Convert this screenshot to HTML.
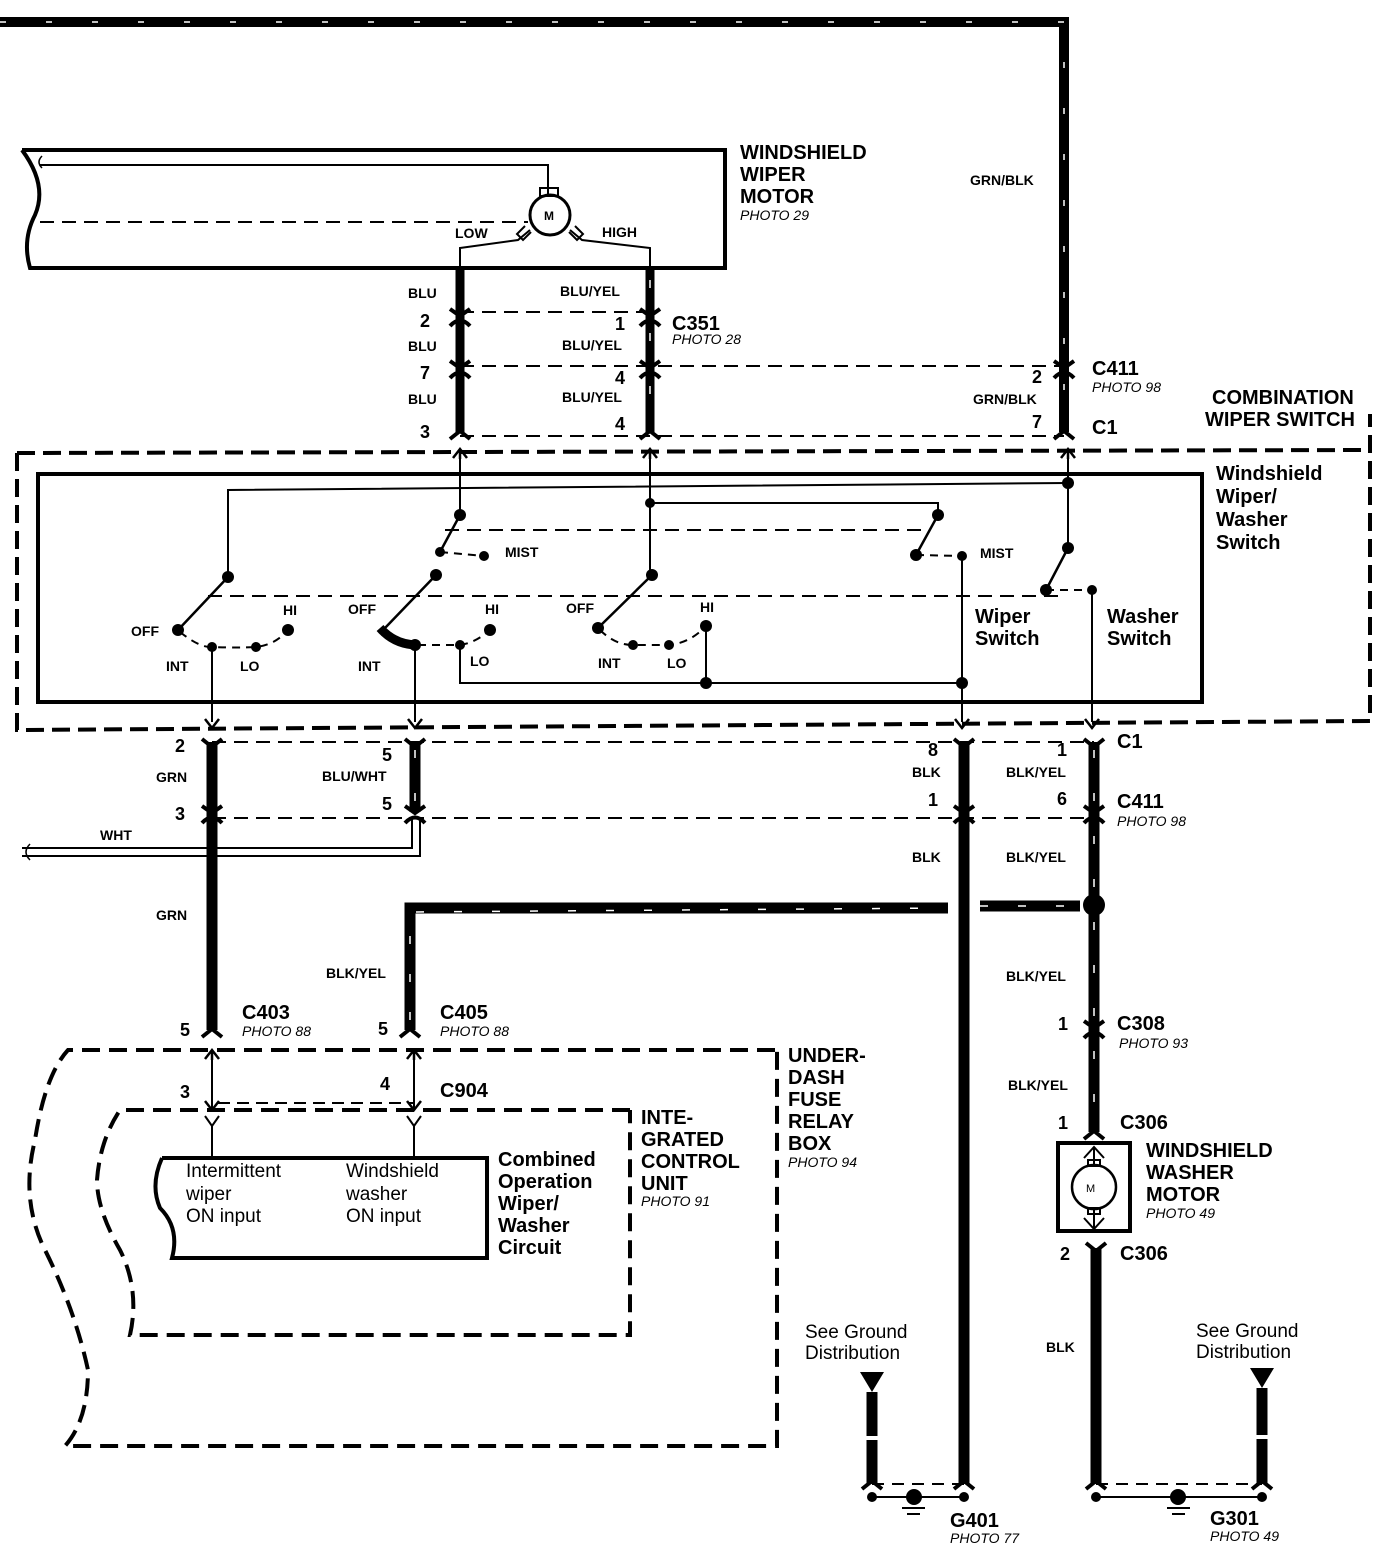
<!DOCTYPE html>
<html><head><meta charset="utf-8"><style>
html,body{margin:0;padding:0;background:#fff}
svg{display:block}
text{font-family:"Liberation Sans",Arial,sans-serif;fill:#000}
.b{font-weight:bold}
.i{font-style:italic}
</style></head><body>
<svg width="1392" height="1550" viewBox="0 0 1392 1550" xmlns="http://www.w3.org/2000/svg">
<defs>
<g id="cp"><path d="M-10,-9 L0,-2 L10,-9" fill="none" stroke="#000" stroke-width="4"/><path d="M-10,8 Q0,-3 10,8" fill="none" stroke="#000" stroke-width="4"/></g>
<g id="fk"><path d="M-10,-9 L0,-1 L10,-9" fill="none" stroke="#000" stroke-width="4"/></g>
<g id="fu"><path d="M-10,9 L0,1 L10,9" fill="none" stroke="#000" stroke-width="4"/></g>
<g id="au"><path d="M-7,9 L0,0 L7,9 M0,0 L0,10" fill="none" stroke="#000" stroke-width="2.5"/></g>
<g id="ad"><path d="M-7,-9 L0,0 L7,-9" fill="none" stroke="#000" stroke-width="2.5"/></g>
</defs>
<g fill="none" stroke="#000">
<path d="M0,22 L1064,22 L1064,432" stroke-width="10"/>
<path d="M0,22 L1064,22 L1064,432" stroke="#fff" stroke-width="1.5" stroke-dasharray="6 40"/>
<path d="M22,150 L725,150 L725,268 L30,268 Q22,240 35,215 Q48,185 22,150" stroke-width="4"/>
<path d="M40,165 L548,165 L548,195" stroke-width="2"/>
<path d="M42,168 q-6,-6 0,-12" stroke-width="1.5"/>
<path d="M40,222 L528,222" stroke-width="2" stroke-dasharray="14 8"/>
<circle cx="550" cy="215" r="20" stroke-width="3"/>
<rect x="540" y="188" width="18" height="8" stroke-width="2"/>
<path d="M530,230 L518,240 L460,248 L460,268 M570,230 L582,240 L650,248 L650,268" stroke-width="2"/>
<path d="M525,226 l-8,8 l6,6 l8,-8 M575,226 l8,8 l-6,6 l-8,-8" stroke-width="2"/>
<path d="M460,268 L460,432 M650,268 L650,432" stroke-width="9"/>
<path d="M650,280 L650,432" stroke="#fff" stroke-width="1.5" stroke-dasharray="8 45"/>
<path d="M460,312 L650,312" stroke-width="2" stroke-dasharray="14 8"/>
<path d="M460,366 L1064,366" stroke-width="2" stroke-dasharray="14 8"/>
<path d="M460,436 L1064,436" stroke-width="2" stroke-dasharray="14 8"/>
<path d="M17,453 L17,730 L1370,721 L1370,414 M17,453 L1370,450" stroke-width="4" stroke-dasharray="18 8"/>
<rect x="38" y="474" width="1164" height="228" stroke-width="4"/>
<path d="M228,577 L228,490 L1068,483" stroke-width="2"/>
<path d="M650,455 L650,575 M460,455 L460,515 M1068,455 L1068,548" stroke-width="2"/>
<path d="M650,503 L938,503 L938,515" stroke-width="2"/>
<path d="M445,530 L930,530" stroke-width="2" stroke-dasharray="14 8"/>
<path d="M208,596 L1060,596" stroke-width="2" stroke-dasharray="14 8"/>
<path d="M460,515 L440,552 M436,575 L385,628 M228,577 L178,630 M652,575 L598,628 M938,515 L916,555 M1068,548 L1046,590" stroke-width="2.5"/>
<path d="M440,552 L484,556 M916,555 L962,556 M1046,590 L1092,590" stroke-width="2" stroke-dasharray="8 6"/>
<path d="M180,632 Q200,648 212,647 Q240,648 256,647 Q275,645 288,630 M600,630 Q615,645 633,645 L669,645 Q690,643 706,626" stroke-width="2" stroke-dasharray="8 6"/>
<path d="M380,628 Q395,645 418,645" stroke-width="9"/>
<path d="M418,645 L460,645 Q475,643 490,630" stroke-width="2" stroke-dasharray="8 6"/>
<path d="M212,647 L212,722 M415,645 L415,722 M460,645 L460,683 L962,683 M706,626 L706,683 M962,556 L962,722 M1092,590 L1092,722" stroke-width="2"/>
<path d="M212,742 L212,1030 M415,742 L415,812 M964,742 L964,1484 M1094,742 L1094,1132" stroke-width="11"/>
<path d="M415,750 L415,810 M1094,750 L1094,1130" stroke="#fff" stroke-width="1.5" stroke-dasharray="8 35"/>
<path d="M212,742 L1094,742 M212,818 L1094,818" stroke-width="2" stroke-dasharray="14 8"/>
<path d="M22,848 L412,848 L412,818 M22,856 L420,856 L420,818" stroke-width="2"/>
<path d="M30,844 q-8,8 0,16" stroke-width="1.5"/>
<path d="M410,1030 L410,908 L948,908 M980,906 L1080,906" stroke-width="11"/>
<path d="M410,1020 L410,912 L948,908 M980,906 L1080,906" stroke="#fff" stroke-width="1.5" stroke-dasharray="8 30"/>
<circle cx="1094" cy="905" r="11" fill="#000" stroke="none"/>
<path d="M775,1050 L68,1050 Q45,1075 35,1140 Q20,1200 45,1250 Q75,1310 88,1370 Q88,1420 65,1446 L777,1446 L777,1050" stroke-width="4" stroke-dasharray="18 9"/>
<path d="M630,1110 L120,1110 Q100,1140 97,1180 Q97,1210 120,1250 Q140,1290 130,1335 L630,1335 L630,1110" stroke-width="4" stroke-dasharray="18 9"/>
<path d="M212,1052 L212,1108 M414,1052 L414,1108" stroke-width="2"/>
<path d="M218,1103 L415,1103" stroke-width="2" stroke-dasharray="12 7"/>
<path d="M212,1125 L212,1158 M414,1125 L414,1158" stroke-width="2"/>
<path d="M205,1116 L212,1126 L219,1116 M407,1116 L414,1126 L421,1116" stroke-width="2"/>
<path d="M162,1158 L487,1158 L487,1258 L172,1258 Q180,1228 160,1208 Q150,1185 162,1158" stroke-width="4"/>
<rect x="1058" y="1143" width="72" height="88" stroke-width="4"/>
<circle cx="1094" cy="1187" r="22" stroke-width="2.5"/>
<path d="M1094,1147 L1094,1165 M1094,1209 L1094,1228" stroke-width="2"/>
<path d="M1084,1158 L1094,1147 L1104,1158 M1084,1218 L1094,1229 L1104,1218" stroke-width="2"/>
<rect x="1088" y="1160" width="12" height="6" stroke-width="2"/><rect x="1088" y="1208" width="12" height="6" stroke-width="2"/>
<path d="M1096,1248 L1096,1484" stroke-width="11"/>
<path d="M872,1392 L872,1484 M1262,1388 L1262,1484" stroke-width="11"/>
<path d="M872,1436 L872,1440 M1262,1435 L1262,1439" stroke="#fff" stroke-width="12"/>
<path d="M872,1484 L964,1484 M1096,1484 L1262,1484" stroke-width="2" stroke-dasharray="12 8"/>
<path d="M872,1497 L964,1497 M1096,1497 L1262,1497" stroke-width="2"/>
<path d="M902,1508 L925,1508 M907,1514 L920,1514 M1167,1508 L1190,1508 M1172,1514 L1185,1514" stroke-width="2"/>
</g>
<g fill="#000">
<path d="M860,1372 L884,1372 L872,1392 Z M1250,1368 L1274,1368 L1262,1388 Z"/>
<circle cx="872" cy="1497" r="5"/><circle cx="964" cy="1497" r="5"/><circle cx="914" cy="1497" r="8"/>
<circle cx="1096" cy="1497" r="5"/><circle cx="1262" cy="1497" r="5"/><circle cx="1178" cy="1497" r="8"/>
<circle cx="228" cy="577" r="6"/><circle cx="178" cy="630" r="6"/><circle cx="212" cy="647" r="5"/><circle cx="256" cy="647" r="5"/><circle cx="288" cy="630" r="6"/>
<circle cx="460" cy="515" r="6"/><circle cx="440" cy="552" r="5"/><circle cx="484" cy="556" r="5"/><circle cx="436" cy="575" r="6"/><circle cx="415" cy="645" r="6"/><circle cx="460" cy="645" r="5"/><circle cx="490" cy="630" r="6"/>
<circle cx="652" cy="575" r="6"/><circle cx="598" cy="628" r="6"/><circle cx="633" cy="645" r="5"/><circle cx="669" cy="645" r="5"/><circle cx="706" cy="626" r="6"/><circle cx="706" cy="683" r="6"/>
<circle cx="650" cy="503" r="5"/><circle cx="938" cy="515" r="6"/><circle cx="916" cy="555" r="6"/><circle cx="962" cy="556" r="5"/><circle cx="962" cy="683" r="6"/>
<circle cx="1068" cy="483" r="6"/><circle cx="1068" cy="548" r="6"/><circle cx="1046" cy="590" r="6"/><circle cx="1092" cy="590" r="5"/>
</g>
<use href="#cp" x="460" y="318"/><use href="#cp" x="650" y="318"/>
<use href="#cp" x="460" y="370"/><use href="#cp" x="650" y="370"/><use href="#cp" x="1064" y="370"/>
<use href="#fu" x="460" y="430"/><use href="#fu" x="650" y="430"/><use href="#fu" x="1064" y="430"/>
<use href="#au" x="460" y="449"/><use href="#au" x="650" y="449"/><use href="#au" x="1068" y="449"/>
<use href="#ad" x="212" y="728"/><use href="#ad" x="415" y="728"/><use href="#ad" x="962" y="728"/><use href="#ad" x="1092" y="728"/>
<use href="#fk" x="212" y="748"/><use href="#fk" x="415" y="748"/><use href="#fk" x="964" y="748"/><use href="#fk" x="1094" y="748"/>
<use href="#cp" x="212" y="815"/><use href="#cp" x="415" y="815"/><use href="#cp" x="964" y="815"/><use href="#cp" x="1094" y="815"/>
<use href="#fu" x="212" y="1028"/><use href="#fu" x="410" y="1028"/>
<use href="#au" x="212" y="1050"/><use href="#au" x="414" y="1050"/>
<use href="#ad" x="212" y="1110"/><use href="#ad" x="414" y="1110"/>
<use href="#cp" x="1094" y="1030"/><use href="#fu" x="1094" y="1130"/><use href="#fk" x="1096" y="1252"/>
<use href="#fu" x="872" y="1480"/><use href="#fu" x="964" y="1480"/><use href="#fu" x="1096" y="1480"/><use href="#fu" x="1262" y="1480"/>
<g class="b" font-size="20">
<text x="740" y="159">WINDSHIELD</text><text x="740" y="181">WIPER</text><text x="740" y="203">MOTOR</text>
<text x="672" y="330">C351</text><text x="1092" y="375">C411</text><text x="1092" y="434">C1</text>
<text x="1212" y="404">COMBINATION</text><text x="1205" y="426">WIPER SWITCH</text>
<text x="1216" y="480">Windshield</text><text x="1216" y="503">Wiper/</text><text x="1216" y="526">Washer</text><text x="1216" y="549">Switch</text>
<text x="975" y="623">Wiper</text><text x="975" y="645">Switch</text><text x="1107" y="623">Washer</text><text x="1107" y="645">Switch</text>
<text x="1117" y="748">C1</text><text x="1117" y="808">C411</text><text x="1117" y="1030">C308</text><text x="1120" y="1129">C306</text><text x="1120" y="1260">C306</text>
<text x="1146" y="1157">WINDSHIELD</text><text x="1146" y="1179">WASHER</text><text x="1146" y="1201">MOTOR</text>
<text x="242" y="1019">C403</text><text x="440" y="1019">C405</text><text x="440" y="1097">C904</text>
<text x="788" y="1062">UNDER-</text><text x="788" y="1084">DASH</text><text x="788" y="1106">FUSE</text><text x="788" y="1128">RELAY</text><text x="788" y="1150">BOX</text>
<text x="641" y="1124">INTE-</text><text x="641" y="1146">GRATED</text><text x="641" y="1168">CONTROL</text><text x="641" y="1190">UNIT</text>
<text x="498" y="1166">Combined</text><text x="498" y="1188">Operation</text><text x="498" y="1210">Wiper/</text><text x="498" y="1232">Washer</text><text x="498" y="1254">Circuit</text>
<text x="950" y="1527">G401</text><text x="1210" y="1525">G301</text>
</g>
<g class="b" font-size="18">
<text x="420" y="327">2</text><text x="615" y="330">1</text><text x="420" y="379">7</text><text x="615" y="384">4</text><text x="420" y="438">3</text><text x="615" y="430">4</text><text x="1032" y="383">2</text><text x="1032" y="428">7</text>
<text x="175" y="752">2</text><text x="382" y="761">5</text><text x="175" y="820">3</text><text x="382" y="810">5</text>
<text x="928" y="756">8</text><text x="1057" y="756">1</text><text x="928" y="806">1</text><text x="1057" y="805">6</text>
<text x="180" y="1036">5</text><text x="378" y="1035">5</text><text x="180" y="1098">3</text><text x="380" y="1090">4</text>
<text x="1058" y="1030">1</text><text x="1058" y="1129">1</text><text x="1060" y="1260">2</text>
</g>
<g class="b" font-size="14">
<text x="455" y="238">LOW</text><text x="602" y="237">HIGH</text>
<text x="408" y="298">BLU</text><text x="560" y="296">BLU/YEL</text><text x="408" y="351">BLU</text><text x="562" y="350">BLU/YEL</text><text x="408" y="404">BLU</text><text x="562" y="402">BLU/YEL</text>
<text x="970" y="185">GRN/BLK</text><text x="973" y="404">GRN/BLK</text>
<text x="505" y="557">MIST</text><text x="980" y="558">MIST</text>
<text x="131" y="636">OFF</text><text x="283" y="615">HI</text><text x="166" y="671">INT</text><text x="240" y="671">LO</text>
<text x="348" y="614">OFF</text><text x="485" y="614">HI</text><text x="358" y="671">INT</text><text x="470" y="666">LO</text>
<text x="566" y="613">OFF</text><text x="700" y="612">HI</text><text x="598" y="668">INT</text><text x="667" y="668">LO</text>
<text x="156" y="782">GRN</text><text x="322" y="781">BLU/WHT</text><text x="100" y="840">WHT</text><text x="156" y="920">GRN</text><text x="326" y="978">BLK/YEL</text>
<text x="912" y="777">BLK</text><text x="1006" y="777">BLK/YEL</text><text x="912" y="862">BLK</text><text x="1006" y="862">BLK/YEL</text>
<text x="1006" y="981">BLK/YEL</text><text x="1008" y="1090">BLK/YEL</text><text x="1046" y="1352">BLK</text>
</g>
<g class="i" font-size="14">
<text x="740" y="220">PHOTO 29</text><text x="672" y="344">PHOTO 28</text><text x="1092" y="392">PHOTO 98</text><text x="1117" y="826">PHOTO 98</text>
<text x="1119" y="1048">PHOTO 93</text><text x="1146" y="1218">PHOTO 49</text><text x="242" y="1036">PHOTO 88</text><text x="440" y="1036">PHOTO 88</text>
<text x="788" y="1167">PHOTO 94</text><text x="641" y="1206">PHOTO 91</text><text x="950" y="1543">PHOTO 77</text><text x="1210" y="1541">PHOTO 49</text>
</g>
<g font-size="19">
<text x="186" y="1177">Intermittent</text><text x="186" y="1200">wiper</text><text x="186" y="1222">ON input</text>
<text x="346" y="1177">Windshield</text><text x="346" y="1200">washer</text><text x="346" y="1222">ON input</text>
<text x="805" y="1338">See Ground</text><text x="805" y="1359">Distribution</text>
<text x="1196" y="1337">See Ground</text><text x="1196" y="1358">Distribution</text>
</g>
<text x="1086" y="1192" font-size="11">M</text><text x="544" y="220" font-size="12" class="b">M</text>
</svg>
</body></html>
